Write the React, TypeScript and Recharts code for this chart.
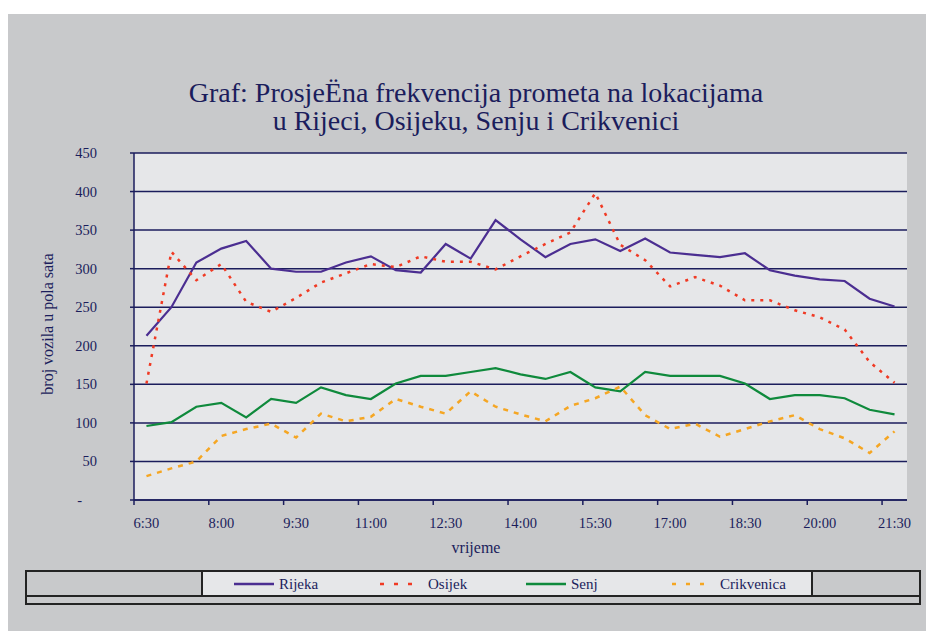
import { LineChart, Line, XAxis, YAxis, CartesianGrid } from 'recharts';

const times = [
  '6:30', '7:00', '7:30', '8:00', '8:30', '9:00', '9:30', '10:00', '10:30', '11:00', '11:30',
  '12:00', '12:30', '13:00', '13:30', '14:00', '14:30', '15:00', '15:30', '16:00', '16:30',
  '17:00', '17:30', '18:00', '18:30', '19:00', '19:30', '20:00', '20:30', '21:00', '21:30',
];

const rijeka = [213, 250, 308, 326, 336, 300, 296, 296, 308, 316, 298, 295, 332, 313, 363, 338, 315, 332, 338, 323, 339, 321, 318, 315, 320, 298, 291, 286, 284, 261, 251];
const osijek = [151, 322, 285, 306, 257, 244, 262, 282, 294, 306, 302, 316, 309, 309, 299, 316, 332, 347, 398, 331, 311, 277, 289, 278, 259, 259, 246, 237, 221, 179, 152];
const senj = [96, 101, 121, 126, 107, 131, 126, 146, 136, 131, 151, 161, 161, 166, 171, 163, 157, 166, 146, 141, 166, 161, 161, 161, 151, 131, 136, 136, 132, 117, 111];
const crikvenica = [31, 41, 50, 83, 92, 99, 81, 112, 102, 108, 131, 121, 112, 141, 121, 111, 102, 122, 132, 147, 110, 92, 99, 82, 92, 102, 110, 92, 80, 61, 89];

const yTicks = [0, 50, 100, 150, 200, 250, 300, 350, 400, 450];

const series = [
  { key: 'rijeka', name: 'Rijeka', color: '#4b2e91', dash: undefined },
  { key: 'osijek', name: 'Osijek', color: '#f03a24', dash: '3 6' },
  { key: 'senj', name: 'Senj', color: '#0f8a3c', dash: undefined },
  { key: 'crikvenica', name: 'Crikvenica', color: '#f5a623', dash: '5 6' },
];

const data = times.map((t, i) => ({
  time: t,
  rijeka: rijeka[i],
  osijek: osijek[i],
  senj: senj[i],
  crikvenica: crikvenica[i],
}));

const navy = '#1b1d5c';
const font = '"Liberation Serif", "DejaVu Serif", serif';
const band = 773 / 31;

function XTick(props: any) {
  const { x, y, payload } = props;
  return (
    <g>
      <line x1={x - band / 2} x2={x - band / 2} y1={y} y2={y + 5} stroke={navy} strokeWidth={1.5} />
      <text x={x} y={y + 28} textAnchor="middle" fill={navy} fontSize={14.5} fontFamily={font}>
        {payload.value}
      </text>
    </g>
  );
}

function YTick(props: any) {
  const { x, y, payload } = props;
  return (
    <g>
      <line x1={x - 4} x2={x} y1={y} y2={y} stroke={navy} strokeWidth={1.5} />
      <text x={payload.value === 0 ? x - 52 : x - 37} y={y + 5} textAnchor="end" fill={navy} fontSize={14.5} fontFamily={font}>
        {payload.value === 0 ? '-' : payload.value}
      </text>
    </g>
  );
}

export default function App() {
  return (
    <div style={{ paddingTop: 6 }}>
      <div style={{ position: 'relative', width: 926, height: 617, background: '#c8c9cb', fontFamily: font }}>
        <div style={{ position: 'absolute', left: 0, top: 65, width: 936, textAlign: 'center', color: navy, fontSize: 28, lineHeight: '28px' }}>
          Graf: ProsjeËna frekvencija prometa na lokacijama
          <br />
          u Rijeci, Osijeku, Senju i Crikvenici
        </div>
        <div style={{ position: 'absolute', left: 0, top: 0 }}>
          <LineChart width={926} height={560} data={data} margin={{ top: 139, right: 27, left: 66, bottom: 44 }}>
            <CartesianGrid vertical={false} stroke={navy} strokeWidth={1.5} fill="#e6e7e9" />
            <XAxis
              dataKey="time"
              interval={2}
              height={30}
              padding={{ left: band / 2, right: band / 2 }}
              tickLine={false}
              tickSize={0}
              tickMargin={0}
              stroke={navy}
              strokeWidth={1.5}
              tick={<XTick />}
            />
            <YAxis
              width={60}
              domain={[0, 450]}
              ticks={yTicks}
              interval={0}
              tickLine={false}
              tickSize={0}
              tickMargin={0}
              stroke={navy}
              strokeWidth={1.5}
              tick={<YTick />}
            />
            {series.map((s) => (
              <Line
                key={s.key}
                type="linear"
                dataKey={s.key}
                name={s.name}
                stroke={s.color}
                strokeWidth={s.dash ? 2.5 : 2.2}
                strokeDasharray={s.dash}
                dot={false}
                isAnimationActive={false}
              />
            ))}
          </LineChart>
        </div>
        <div
          style={{
            position: 'absolute',
            left: 40,
            top: 310,
            transform: 'translate(-50%, -50%) rotate(-90deg)',
            whiteSpace: 'nowrap',
            color: navy,
            fontSize: 16,
          }}
        >
          broj vozila u pola sata
        </div>
        <div style={{ position: 'absolute', left: 468, top: 534, transform: 'translate(-50%, -50%)', color: navy, fontSize: 16 }}>
          vrijeme
        </div>
        <div style={{ position: 'absolute', left: 17, top: 556, width: 896, height: 35, border: '2px solid #232323', boxSizing: 'border-box' }}>
          <div style={{ position: 'absolute', left: 0, top: 23, width: 892, height: 2, background: '#232323' }} />
          <div
            style={{
              position: 'absolute',
              left: 174,
              top: 0,
              width: 612,
              height: 23,
              background: '#e6e7e9',
              borderLeft: '2px solid #232323',
              borderRight: '2px solid #232323',
              boxSizing: 'border-box',
            }}
          >
            {series.map((s, i) => (
              <div
                key={s.key}
                style={{ position: 'absolute', left: 31 + i * 146, top: 2, display: 'flex', alignItems: 'center', height: 20 }}
              >
                <svg width={40} height={6}>
                  <line x1={0} x2={40} y1={3} y2={3} stroke={s.color} strokeWidth={2.5} strokeDasharray={s.dash ? '4 10' : undefined} />
                </svg>
                <span style={{ marginLeft: s.dash ? 8 : 5, color: navy, fontSize: 15 }}>{s.name}</span>
              </div>
            ))}
          </div>
        </div>
      </div>
    </div>
  );
}
